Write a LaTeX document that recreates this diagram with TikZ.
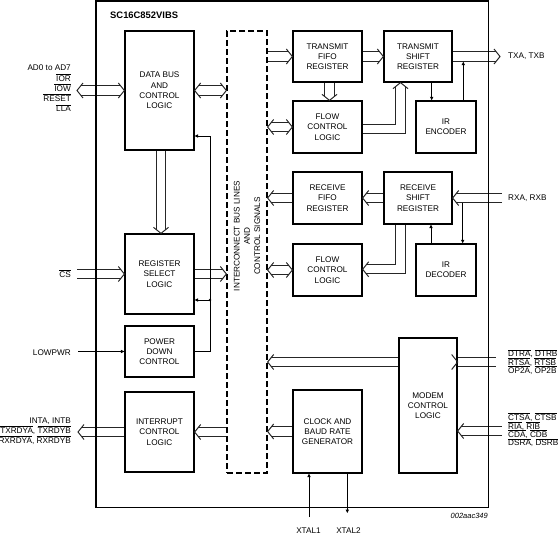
\documentclass[tikz,border=0pt]{standalone}
\usepackage{fontspec}
\setmainfont{Liberation Sans}
\usepackage{tikz}
\usetikzlibrary{arrows.meta,backgrounds}
\newcommand\barsig[1]{$\overline{\hbox{#1}}$}
\newcommand\blkfont{\fontsize{8.2}{10.3}\selectfont}
\newcommand\tightfont{\fontsize{8.2}{8.4}\selectfont\lineskiplimit=-10pt\relax}
\tikzset{
  unit-box/.style={draw,line width=1.3pt,minimum width=69pt,inner sep=0pt,
    align=center,font=\blkfont},
  icb-box/.style={draw,line width=1.3pt,dash pattern=on 6pt off 3pt,
    minimum width=40pt,minimum height=442pt,inner sep=0pt},
  sig-label/.style={inner sep=0pt,font=\blkfont},
  sig-label-tight/.style={inner sep=0pt,align=left,font=\tightfont},
  bus/.style={line width=1pt,draw=black!85,double=white,double distance=8.2pt},
  bus-in/.style={shorten >=3.7pt},
  bus-out/.style={shorten <=3.7pt},
  sig-arrow/.style={line width=1pt,-{Triangle[length=3.5pt,width=3.2pt]}},
  bus-tip/.pic={\draw[line width=1pt,draw=black!85,line join=miter]
    (-6,-7.5) -- (0,0) -- (-6,7.5);},
}
\begin{document}
\begin{tikzpicture}[x=1pt,y=-1pt]
  \useasboundingbox (0,0) rectangle (559,536);
  \draw[line width=1.3pt] (96,1) rectangle (488.5,507.5);
  \node[anchor=west,inner sep=0pt,font=\fontsize{9.4}{11}\selectfont\bfseries] (title) at (110,15.5) {SC16C852VIBS};

  % host side
  \node[unit-box,minimum height=119pt] (dbus) at (159.5,90.5) {DATA BUS\\AND\\CONTROL\\LOGIC};
  \node[unit-box,minimum height=80pt] (rsel) at (159.5,274) {REGISTER\\SELECT\\LOGIC};
  \node[unit-box,minimum height=51pt] (pwr) at (159.5,351.5) {POWER\\DOWN\\CONTROL};
  \node[unit-box,minimum height=80pt] (irq) at (159.5,432) {INTERRUPT\\CONTROL\\LOGIC};
  \node[icb-box] (icb) at (247,252) {};
  \node[rotate=90,align=center,inner sep=0pt,font=\blkfont] (icblbl) at (247,236)
    {INTERCONNECT BUS LINES\\AND\\CONTROL SIGNALS};

  % UART side
  \node[unit-box,minimum height=51pt] (tfifo) at (327.5,56.5) {TRANSMIT\\FIFO\\REGISTER};
  \node[unit-box,minimum height=51pt,minimum width=68pt] (tsr) at (418,56.5) {TRANSMIT\\SHIFT\\REGISTER};
  \node[unit-box,minimum height=52pt] (tflow) at (327.5,127) {FLOW\\CONTROL\\LOGIC};
  \node[unit-box,minimum height=52pt,minimum width=60pt] (irenc) at (446,127) {IR\\ENCODER};
  \node[unit-box,minimum height=52pt] (rfifo) at (327.5,198) {RECEIVE\\FIFO\\REGISTER};
  \node[unit-box,minimum height=52pt,minimum width=68pt] (rsr) at (418,198) {RECEIVE\\SHIFT\\REGISTER};
  \node[unit-box,minimum height=52pt] (rflow) at (327.5,270) {FLOW\\CONTROL\\LOGIC};
  \node[unit-box,minimum height=52pt,minimum width=60pt] (irdec) at (446,270) {IR\\DECODER};
  \node[unit-box,minimum height=83pt] (clk) at (327.5,431.5) {CLOCK AND\\BAUD RATE\\GENERATOR};
  \node[unit-box,minimum height=135pt,minimum width=58pt] (modem) at (428,405.5) {MODEM\\CONTROL\\LOGIC};

  % pins and bends
  \coordinate (adin) at (77,90.5);
  \coordinate (csin) at (77,274);
  \coordinate (lowin) at (78,351.5);
  \coordinate (irqout) at (78,432);
  \coordinate (txout) at (500,56.5);
  \coordinate (rxin) at (502,198);
  \coordinate (dtrout) at (500,362);
  \coordinate (ctsin) at (502,431);
  \coordinate (vbus) at (161,0);
  \coordinate (tfb) at (329.5,0);
  \coordinate (fb) at (400.5,128.7);
  \coordinate (rb) at (400.5,269.3);
  \coordinate (pdtap) at (210,136);
  \coordinate (rstap) at (210,300);
  \coordinate (encdn) at (431.7,0);
  \coordinate (txlow) at (463.3,61.6);
  \coordinate (rxlow) at (462.7,202.6);
  \coordinate (decup) at (431,0);
  \coordinate (x1) at (309,517);
  \coordinate (x2) at (347.3,513);

  \begin{scope}[on background layer]
    \draw[bus,bus-out,bus-in] (adin) -- (dbus.west);
    \draw[bus,bus-out,bus-in] (dbus.east) -- (dbus.east -| icb.west);
    \draw[bus,bus-in] (dbus.south -| vbus) -- (rsel.north -| vbus);
    \draw[bus,bus-in] (csin) -- (rsel.west);
    \draw[bus,bus-in] (rsel.east) -- (rsel.east -| icb.west);
    \draw[bus,bus-in] (irq.east -| icb.west) -- (irq.east);
    \draw[bus,bus-in] (irq.west) -- (irqout);
    \draw[bus,bus-in] (tfifo.west -| icb.east) -- (tfifo.west);
    \draw[bus,bus-in] (tfifo.east) -- (tsr.west);
    \draw[bus,bus-in] (tsr.east) -- (txout);
    \draw[bus,bus-in] (tfifo.south -| tfb) -- (tflow.north -| tfb);
    \draw[bus,bus-out,bus-in] (tflow.west -| icb.east) -- (tflow.west);
    \draw[bus,bus-in] (tflow.east |- fb) -- (fb) -- (tsr.south -| fb);
    \draw[bus,bus-in] (rsr.west) -- (rfifo.east);
    \draw[bus,bus-in] (rfifo.west) -- (rfifo.west -| icb.east);
    \draw[bus,bus-in] (rxin) -- (rsr.east);
    \draw[bus,bus-in] (rsr.south -| rb) -- (rb) -- (rflow.east |- rb);
    \draw[bus,bus-out,bus-in] (rflow.west -| icb.east) -- (rflow.west);
    \draw[bus,bus-in] (modem.west |- dtrout) -- (icb.east |- dtrout);
    \draw[bus,bus-in] (modem.east |- dtrout) -- (dtrout);
    \draw[bus,bus-in] (ctsin) -- (modem.east |- ctsin);
    \draw[bus,bus-in] (clk.west) -- (clk.west -| icb.east);
  \end{scope}

  \foreach \p in {dbus.west,rsel.west,tfifo.west,tsr.west,txout,tflow.west,rflow.west}
    \pic at (\p) {bus-tip};
  \foreach \a/\b in {dbus.east/icb.west,rsel.east/icb.west,dtrout/modem.east}
    \pic at (\a -| \b) {bus-tip};
  \foreach \p in {adin,dbus.east,irq.east,irqout,rfifo.east,rsr.east}
    \pic[rotate=180] at (\p) {bus-tip};
  \foreach \a/\b in {tflow.west/icb.east,rfifo.west/icb.east,rflow.west/icb.east,
      clk.west/icb.east,dtrout/icb.east,ctsin/modem.east,rb/rflow.east}
    \pic[rotate=180] at (\a -| \b) {bus-tip};
  \pic[rotate=-90] at (rsel.north -| vbus) {bus-tip};
  \pic[rotate=-90] at (tflow.north -| tfb) {bus-tip};
  \pic[rotate=90] at (tsr.south -| fb) {bus-tip};

  \draw[sig-arrow] (lowin) -- (pwr.west);
  \draw[sig-arrow] (pwr.east) -| (pdtap) -- (dbus.east |- pdtap);
  \draw[sig-arrow] (rstap) -- (rsel.east |- rstap);
  \fill (rstap) circle (1.4pt);
  \draw[sig-arrow] (tsr.south -| encdn) -- (irenc.north -| encdn);
  \draw[sig-arrow] (irenc.north -| txlow) -- (txlow);
  \draw[sig-arrow] (rxlow) -- (irdec.north -| rxlow);
  \draw[sig-arrow] (irdec.north -| decup) -- (rsr.south -| decup);
  \draw[sig-arrow] (x1) -- (clk.south -| x1);
  \draw[sig-arrow] (clk.south -| x2) -- (x2);

  \node[sig-label,anchor=east,align=right] (adlbl) at (71,88.5)
    {AD0 to AD7\\\barsig{IOR}\\\barsig{IOW}\\\barsig{RESET}\\\barsig{LLA}};
  \node[sig-label,anchor=east] (cslbl) at (71,273.5) {\barsig{CS}};
  \node[sig-label,anchor=east] (lowlbl) at (71,352.5) {LOWPWR};
  \node[sig-label,anchor=east,align=right] (irqlbl) at (71,431)
    {INTA, INTB\\\barsig{TXRDYA}, \barsig{TXRDYB}\\\barsig{RXRDYA}, \barsig{RXRDYB}};
  \node[sig-label,anchor=west] (txlbl) at (508,56.5) {TXA, TXB};
  \node[sig-label,anchor=west] (rxlbl) at (508,198) {RXA, RXB};
  \node[sig-label-tight,anchor=west] (dtrlbl) at (508,362)
    {\barsig{DTRA}, \barsig{DTRB}\\\barsig{RTSA}, \barsig{RTSB}\\\barsig{OP2A}, \barsig{OP2B}};
  \node[sig-label-tight,anchor=west] (ctslbl) at (508,430)
    {\barsig{CTSA}, \barsig{CTSB}\\\barsig{RIA}, \barsig{RIB}\\\barsig{CDA}, \barsig{CDB}\\\barsig{DSRA}, \barsig{DSRB}};
  \node[sig-label] (x1lbl) at (308.5,531) {XTAL1};
  \node[sig-label] (x2lbl) at (348.5,531) {XTAL2};
  \node[anchor=east,inner sep=0pt,font=\fontsize{7.5}{9}\selectfont\itshape] (figid) at (488,515.5) {002aac349};
\end{tikzpicture}
\end{document}
